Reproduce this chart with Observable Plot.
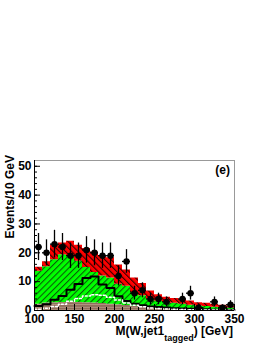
<!DOCTYPE html>
<html><head><meta charset="utf-8">
<script src="https://cdn.jsdelivr.net/npm/d3@7"></script>
<script src="https://cdn.jsdelivr.net/npm/@observablehq/plot@0.6"></script>
<style>body{margin:0;background:#fff;}</style>
</head><body><div id="chart"></div>
<script>
// bin lower edges (GeV), bin width 10
const binLo = [100,110,120,130,140,150,160,170,180,190,200,210,220,230,240,250,260,270,280,290,300,310,320,330,340];
const binW = 10;
// cumulative stack tops
const stackBrown = [2.2,2.6,2.7,2.8,2.8,2.8,2.7,2.6,2.4,2.2,2.0,1.7,1.4,1.2,1.0,0.8,0.7,0.6,0.5,0.4,0.4,0.3,0.3,0.3,0.2];
const stackGreen = [13.6,15.2,17.6,19.3,19.0,17.1,14.9,13.2,12.0,11.3,9.1,8.4,6.2,5.1,3.9,3.3,2.8,2.5,2.2,1.8,1.6,1.4,1.1,1.0,0.9];
const stackRed   = [15.0,16.9,22.5,23.4,24.0,22.6,21.5,20.3,19.0,18.3,15.8,14.0,11.3,9.4,6.8,5.5,4.6,4.2,3.9,3.3,2.7,2.5,2.2,1.8,1.6];
// overlay histograms
const blackLine = [1.6,2.2,3.7,5.0,7.2,9.2,11.3,11.8,9.0,7.8,4.9,3.3,2.3,1.8,1.4,1.2,1.0,0.8,0.7,0.6,0.5,0.4,0.3,0.3,0.2];
const whiteDash = [0.4,0.8,1.4,2.2,3.2,4.2,5.0,5.5,5.3,4.6,3.6,2.6,1.8,1.3,0.9,0.7,0.5,0.4,0.35,0.3,0.25,0.2,0.2,0.15,0.1];
// data points
const dataX   = [105,115,125,135,145,155,165,175,185,195,205,215,225,235,245,255,265,285,295,305,325,335,345];
const dataY   = [22,20,23,22,19,19,21,20,19,19,12,17,6,7,4,4,3,4,6,1,3,1,2];
const dataErr = [4.7,4.5,4.8,4.7,4.4,4.4,4.6,4.5,4.4,4.4,3.5,4.1,2.4,2.6,2.0,2.0,1.7,2.0,2.4,1.0,1.7,1.0,1.4];
// ticks
const yMajor = [0,10,20,30,40,50];
const yMinor = d3.range(0, 52, 2);
const xMajor = [100,150,200,250,300,350];
const xMinor = d3.range(100, 351, 10);

// step tables (extra closing edge at 350)
const last = binLo.length - 1;
const steps = binLo.map((lo, i) => ({x: lo, b: stackBrown[i], g: stackGreen[i], r: stackRed[i], s: blackLine[i], w: whiteDash[i]}));
steps.push({...steps[last], x: binLo[last] + binW});
const pts = dataX.map((x, i) => ({x, y: dataY[i], e: dataErr[i]}));

const pxPerGeV = 200 / 250, pxPerUnit = 150 / 52;

const svg = Plot.plot({
  width: 266, height: 344,
  marginLeft: 34, marginRight: 32, marginTop: 160, marginBottom: 34,
  x: {domain: [100, 350]},
  y: {domain: [0, 52]},
  style: {fontFamily: "'Liberation Sans', Arial, sans-serif", fontWeight: "bold", fontSize: "12px", background: "white", color: "black"},
  marks: [
    Plot.areaY(steps, {x: "x", y1: 0, y2: "b", curve: "step-after", fill: "url(#hBrown)"}),
    Plot.areaY(steps, {x: "x", y1: "b", y2: "g", curve: "step-after", fill: "url(#hGreen)"}),
    Plot.areaY(steps, {x: "x", y1: "g", y2: "r", curve: "step-after", fill: "url(#hRed)"}),
    Plot.line(steps, {x: "x", y: "s", curve: "step-after", stroke: "black", strokeWidth: 2}),
    Plot.line(steps, {x: "x", y: "w", curve: "step-after", stroke: "white", strokeWidth: 1.5, strokeDasharray: "2,2"}),
    Plot.ruleX(pts, {x: "x", y1: d => d.y - d.e, y2: d => d.y + d.e, stroke: "black", strokeWidth: 1.3}),
    Plot.ruleY(pts, {y: "y", x1: d => d.x - binW / 2, x2: d => d.x + binW / 2, stroke: "black", strokeWidth: 1.3}),
    Plot.dot(pts, {x: "x", y: "y", r: 3.2, fill: "black"}),
    Plot.frame({stroke: "#999"}),
    Plot.ruleY(yMajor, {y: d => d, x1: 100, x2: 100 + 6 / pxPerGeV, stroke: "black"}),
    Plot.ruleY(yMinor, {y: d => d, x1: 100, x2: 100 + 3 / pxPerGeV, stroke: "black"}),
    Plot.ruleX(xMajor, {x: d => d, y1: 0, y2: 6 / pxPerUnit, stroke: "black"}),
    Plot.ruleX(xMinor, {x: d => d, y1: 0, y2: 3 / pxPerUnit, stroke: "black"}),
    Plot.ruleX([100], {stroke: "black"}),
    Plot.ruleY([0], {stroke: "black"}),
    Plot.axisY(yMajor, {tickSize: 0, tickPadding: 3, label: null, fontSize: 12, fontWeight: "bold"}),
    Plot.axisX(xMajor, {tickSize: 0, tickPadding: 4, label: null, fontSize: 12, fontWeight: "bold"})
  ]
});

const defs = d3.select(svg).insert("defs", ":first-child");
function hatch(id, bg, line, angle, spacing, width) {
  const p = defs.append("pattern").attr("id", id).attr("patternUnits", "userSpaceOnUse")
    .attr("width", spacing).attr("height", spacing).attr("patternTransform", `rotate(${angle})`);
  p.append("rect").attr("width", spacing).attr("height", spacing).attr("fill", bg);
  p.append("line").attr("x1", 0.5).attr("y1", 0).attr("x2", 0.5).attr("y2", spacing)
    .attr("stroke", line).attr("stroke-width", width);
}
hatch("hGreen", "#00ff00", "#0a560a", 45, 4.4, 1.1);
hatch("hRed", "#ff0000", "#300000", -45, 4.4, 1.2);
hatch("hBrown", "#8e6c5a", "#c4a898", 90, 2.6, 0.7);

const s = d3.select(svg);
s.append("text").attr("transform", "translate(13.5,155) rotate(-90)")
  .attr("text-anchor", "end").attr("font-size", 12).attr("font-weight", "bold")
  .text("Events/10 GeV");
const xt = s.append("text").attr("x", 233).attr("y", 335).attr("text-anchor", "end")
  .attr("font-size", 12).attr("font-weight", "bold");
xt.append("tspan").text("M(W,jet1");
xt.append("tspan").attr("font-size", 9).attr("dy", 6).text("tagged");
xt.append("tspan").attr("dy", -6).text(") [GeV]");
s.append("text").attr("x", 230).attr("y", 174).attr("text-anchor", "end")
  .attr("font-size", 12).attr("font-weight", "bold").text("(e)");

document.getElementById("chart").appendChild(svg);
</script>
</body></html>
